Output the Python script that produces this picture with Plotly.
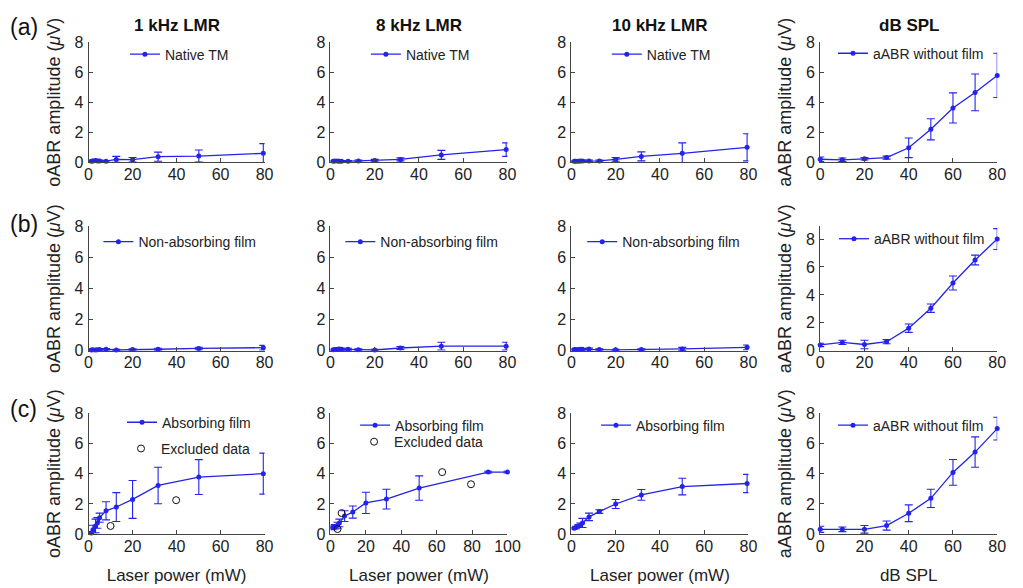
import plotly.graph_objects as go

# ---------------- data ----------------
x_lp = [1.26, 2.0, 3.16, 3.98, 5.01, 7.94, 12.6, 20.0, 31.6, 50.1, 79.4]
x_db = [0, 10, 20, 30, 40, 50, 60, 70, 80]

# row (a) native TM
a1_y = [0.08, 0.10, 0.12, 0.10, 0.10, 0.08, 0.20, 0.18, 0.38, 0.42, 0.60]
a1_e = [0.05, 0.06, 0.08, 0.06, 0.06, 0.05, 0.20, 0.15, 0.30, 0.40, 0.65]
a2_y = [0.08, 0.10, 0.10, 0.08, 0.07, 0.08, 0.10, 0.12, 0.20, 0.50, 0.85]
a2_e = [0.05, 0.06, 0.06, 0.05, 0.05, 0.05, 0.06, 0.08, 0.10, 0.30, 0.45]
a3_y = [0.08, 0.08, 0.08, 0.10, 0.10, 0.10, 0.10, 0.20, 0.40, 0.60, 1.00]
a3_e = [0.04, 0.04, 0.04, 0.05, 0.05, 0.06, 0.06, 0.12, 0.30, 0.70, 0.90]
a4_y = [0.21, 0.17, 0.24, 0.32, 0.97, 2.20, 3.62, 4.65, 5.78]
a4_e = [0.15, 0.12, 0.08, 0.10, 0.65, 0.70, 1.00, 1.22, 1.47]

# row (b) non-absorbing film
b1_y = [0.05, 0.06, 0.05, 0.06, 0.08, 0.10, 0.05, 0.08, 0.10, 0.15, 0.20]
b1_e = [0.04, 0.04, 0.04, 0.04, 0.05, 0.05, 0.04, 0.05, 0.06, 0.08, 0.15]
b2_y = [0.06, 0.08, 0.10, 0.12, 0.10, 0.10, 0.07, 0.05, 0.18, 0.30, 0.30]
b2_e = [0.05, 0.05, 0.06, 0.08, 0.06, 0.06, 0.05, 0.05, 0.10, 0.25, 0.25]
b3_y = [0.08, 0.08, 0.08, 0.10, 0.10, 0.12, 0.08, 0.06, 0.08, 0.12, 0.22]
b3_e = [0.04, 0.04, 0.04, 0.05, 0.05, 0.05, 0.04, 0.04, 0.05, 0.10, 0.15]
b4_y = [0.42, 0.60, 0.45, 0.65, 1.62, 3.05, 4.85, 6.50, 8.00]
b4_e = [0.12, 0.15, 0.30, 0.15, 0.30, 0.30, 0.50, 0.35, 0.75]

# row (c) absorbing film
c1_x = [1.26, 2.0, 3.16, 3.98, 5.01, 7.94, 12.6, 20.0, 31.6, 50.1, 79.4]
c1_y = [0.08, 0.30, 0.55, 0.75, 1.10, 1.55, 1.80, 2.30, 3.22, 3.77, 4.00]
c1_e = [0.10, 0.30, 0.45, 0.35, 0.30, 0.60, 0.95, 1.25, 1.20, 1.15, 1.35]
c1_ex_x = [10.0, 39.8]
c1_ex_y = [0.55, 2.25]

c2_x = [1.26, 2.51, 3.98, 5.01, 7.94, 12.6, 20.0, 31.6, 50.1, 89.1, 100.0]
c2_y = [0.45, 0.50, 0.60, 0.75, 1.20, 1.47, 2.07, 2.32, 3.05, 4.10, 4.10]
c2_e = [0.15, 0.15, 0.20, 0.25, 0.35, 0.40, 0.70, 0.65, 0.80, 0.06, 0.06]
c2_ex_x = [3.98, 6.31, 63.1, 79.4]
c2_ex_y = [0.35, 1.40, 4.10, 3.30]

c3_x = [1.26, 2.0, 3.16, 3.98, 5.01, 7.94, 12.6, 20.0, 31.6, 50.1, 79.4]
c3_y = [0.40, 0.45, 0.55, 0.60, 0.75, 1.15, 1.50, 2.00, 2.60, 3.15, 3.35]
c3_e = [0.05, 0.08, 0.10, 0.15, 0.30, 0.25, 0.12, 0.30, 0.35, 0.55, 0.60]
c4_y = [0.33, 0.33, 0.33, 0.58, 1.39, 2.37, 4.08, 5.42, 6.97]
c4_e = [0.20, 0.15, 0.25, 0.30, 0.55, 0.60, 0.85, 1.00, 0.75]

col_titles = ["1 kHz LMR", "8 kHz LMR", "10 kHz LMR", "dB SPL"]
row_labels = ["(a)", "(b)", "(c)"]
leg_native = "Native TM"
leg_nonabs = "Non-absorbing film"
leg_abs = "Absorbing film"
leg_aabr = "aABR without film"
leg_excl = "Excluded data"
ytitle_o = "oABR amplitude (<i>μ</i>V)"
ytitle_a = "aABR amplitude (<i>μ</i>V)"
xtitle_lp = "Laser power (mW)"
xtitle_db = "dB SPL"

# ---------------- layout helpers ----------------
W, H = 1023, 588
BLUE = "rgb(35,35,235)"
FONT = "Liberation Sans, Arial, sans-serif"
col_px = [(86, 265), (332, 512), (577, 757), (830, 1010)]
row_px = [(35, 159), (225, 353), (417, 542)]

fig = go.Figure()
layout = dict(width=W, height=H, margin=dict(l=0, r=0, t=0, b=0),
              paper_bgcolor="white", plot_bgcolor="white",
              font=dict(family=FONT, size=16, color="#222"), showlegend=True)

legend_count = [0]


def add_legend(left_text_px, center_px):
    legend_count[0] += 1
    n = legend_count[0]
    key = "legend" if n == 1 else f"legend{n}"
    layout[key] = dict(x=(left_text_px - 40) / W, y=1 - center_px / H,
                       xanchor="left", yanchor="middle",
                       bgcolor="rgba(0,0,0,0)", borderwidth=0,
                       font=dict(family=FONT, size=14, color="#222"))
    return key


def panel(r, c, x, y, e, name, leg_pos, xrange=(0, 80), yrange=(0, 8),
          excl=None, excl_pos=None, ytitle=None, xtitle=None):
    i = r * 4 + c + 1
    xa = "x" if i == 1 else f"x{i}"
    ya = "y" if i == 1 else f"y{i}"
    lk = add_legend(*leg_pos)
    fig.add_trace(go.Scatter(
        x=x, y=y, mode="lines+markers", name=name, xaxis=xa, yaxis=ya,
        legend=lk, cliponaxis=False,
        line=dict(color=BLUE, width=1.3),
        marker=dict(color=BLUE, size=5),
        error_y=dict(type="data", array=e, visible=True, color=BLUE,
                     thickness=1.1, width=4)))
    if excl is not None:
        lk2 = add_legend(*excl_pos)
        fig.add_trace(go.Scatter(
            x=excl[0], y=excl[1], mode="markers", name=leg_excl,
            xaxis=xa, yaxis=ya, legend=lk2, cliponaxis=False,
            marker=dict(symbol="circle-open", color="#111", size=7,
                        line=dict(width=1))))
    x0, x1 = col_px[c]
    y0, y1 = row_px[r]
    axcommon = dict(showgrid=False, zeroline=False, showline=True,
                    linecolor="#444", linewidth=1, ticks="inside",
                    ticklen=4, tickcolor="#444",
                    tickfont=dict(family=FONT, size=16, color="#222"))
    xkey = "xaxis" if i == 1 else f"xaxis{i}"
    ykey = "yaxis" if i == 1 else f"yaxis{i}"
    layout[xkey] = dict(axcommon, domain=[x0 / W, x1 / W], range=list(xrange),
                        anchor=ya, dtick=20, tick0=0, ticklabelstandoff=-3)
    layout[ykey] = dict(axcommon, domain=[1 - y1 / H, 1 - y0 / H],
                        range=list(yrange), anchor=xa, dtick=2, tick0=0,
                        ticklabelstandoff=1)
    if xtitle:
        layout[xkey]["title"] = dict(text=xtitle, standoff=15,
                                     font=dict(family=FONT, size=17, color="#222"))
    if ytitle:
        layout[ykey]["title"] = dict(text=ytitle, standoff=9,
                                     font=dict(family=FONT, size=18, color="#222"))


# row a
panel(0, 0, x_lp, a1_y, a1_e, leg_native, (163, 48), ytitle=ytitle_o)
panel(0, 1, x_lp, a2_y, a2_e, leg_native, (408, 48))
panel(0, 2, x_lp, a3_y, a3_e, leg_native, (653, 48))
panel(0, 3, x_db, a4_y, a4_e, leg_aabr, (883, 47), ytitle=ytitle_a)
# row b
panel(1, 0, x_lp, b1_y, b1_e, leg_nonabs, (136, 241), ytitle=ytitle_o)
panel(1, 1, x_lp, b2_y, b2_e, leg_nonabs, (382, 241))
panel(1, 2, x_lp, b3_y, b3_e, leg_nonabs, (628, 241))
panel(1, 3, x_db, b4_y, b4_e, leg_aabr, (884, 238), yrange=(0, 8.9), ytitle=ytitle_a)
# row c
panel(2, 0, c1_x, c1_y, c1_e, leg_abs, (160, 427), excl=(c1_ex_x, c1_ex_y),
      excl_pos=(159, 454), ytitle=ytitle_o, xtitle=xtitle_lp)
panel(2, 1, c2_x, c2_y, c2_e, leg_abs, (397, 430), xrange=(0, 100),
      excl=(c2_ex_x, c2_ex_y), excl_pos=(396, 447), xtitle=xtitle_lp)
panel(2, 2, c3_x, c3_y, c3_e, leg_abs, (642, 430), xtitle=xtitle_lp)
panel(2, 3, x_db, c4_y, c4_e, leg_aabr, (883, 430), ytitle=ytitle_a, xtitle=xtitle_db)

ann = []
for c, t in enumerate(col_titles):
    x0, x1 = col_px[c]
    ann.append(dict(text=f"<b>{t}</b>", x=(x0 + x1) / 2 / W, y=1 - 18 / H,
                    xref="paper", yref="paper", showarrow=False,
                    xanchor="center", yanchor="middle",
                    font=dict(family=FONT, size=17, color="#111")))
for r, (t, yp) in enumerate(zip(row_labels, [20, 222, 413])):
    ann.append(dict(text=t, x=4 / W, y=1 - yp / H, xref="paper", yref="paper",
                    xanchor="left", yanchor="middle", showarrow=False,
                    font=dict(family=FONT, size=23, color="#111")))
layout["annotations"] = ann

fig.update_layout(**layout)
fig.write_html("out.html")
